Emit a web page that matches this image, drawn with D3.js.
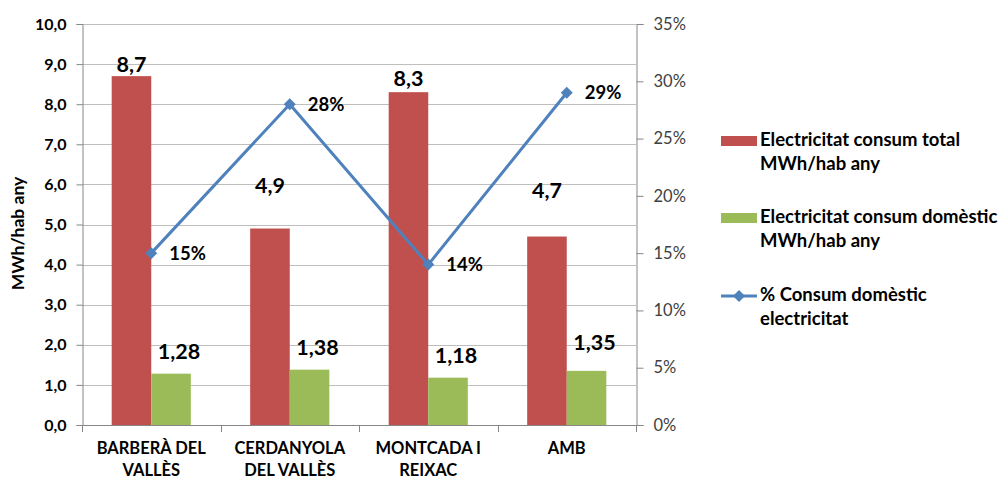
<!DOCTYPE html>
<html>
<head>
<meta charset="utf-8">
<script src="https://cdn.jsdelivr.net/npm/d3@7"></script>
<style>
  html, body { margin: 0; padding: 0; background: #fff; }
  svg { display: block; font-family: Lato, "Open Sans", sans-serif; }
</style>
</head>
<body>
<svg id="chart" width="1004" height="479"></svg>
<script>
// Municipalities and their two-line axis labels
const categories = ["BARBERÀ DEL VALLÈS", "CERDANYOLA DEL VALLÈS", "MONTCADA I REIXAC", "AMB"];
const categoryLines = [["BARBERÀ DEL", "VALLÈS"], ["CERDANYOLA", "DEL VALLÈS"], ["MONTCADA I", "REIXAC"], ["AMB"]];

// Electricity consumption, MWh per inhabitant per year
const totalConsumption = [8.7, 4.9, 8.3, 4.7];
const domesticConsumption = [1.28, 1.38, 1.18, 1.35];
// Domestic share of electricity consumption
const domesticShare = [0.15, 0.28, 0.14, 0.29];

const leftTicks = [0, 1, 2, 3, 4, 5, 6, 7, 8, 9, 10];
const rightTicks = [0, 0.05, 0.10, 0.15, 0.20, 0.25, 0.30, 0.35];

const seriesNames = [
  ["Electricitat consum total", "MWh/hab any"],
  ["Electricitat consum domèstic", "MWh/hab any"],
  ["% Consum domèstic", "electricitat"]
];
const yTitle = "MWh/hab any";

// Colours
const RED = "#C0504D", GREEN = "#9BBB59", BLUE = "#4F81BD";

// Hand-placed label nudges (vertical lift above bar tops)
const totalLabelLift = [4, 36, 6, 39];
const domesticLabelLift = [15, 15, 15, 21];

const svg = d3.select("#chart");
const plot = { left: 82, right: 636, top: 24, bottom: 425 };

const locale = d3.formatLocale({ decimal: ",", thousands: ".", grouping: [3], currency: ["", "€"] });
const f1 = locale.format(".1f");
const f2 = locale.format(".2f");
const fPct = d => Math.round(d * 100) + "%";

const x = d3.scaleBand().domain(categories).range([plot.left, plot.right]).paddingInner(0).paddingOuter(0);
const xSub = d3.scaleBand().domain(["total", "domestic"]).range([0, x.bandwidth()]).paddingInner(0).paddingOuter(0.75);
const yL = d3.scaleLinear().domain([0, 10]).range([plot.bottom, plot.top]);
const yR = d3.scaleLinear().domain([0, 0.35]).range([plot.bottom, plot.top]);

// Horizontal gridlines
svg.append("g").selectAll("line").data(leftTicks.slice(1)).join("line")
  .attr("x1", plot.left).attr("x2", plot.right)
  .attr("y1", d => Math.round(yL(d)) + 0.5).attr("y2", d => Math.round(yL(d)) + 0.5)
  .attr("stroke", "#BEBEBE").attr("stroke-width", 1);

// Left axis
const gL = svg.append("g").attr("transform", `translate(${plot.left + 0.5},0)`)
  .call(d3.axisLeft(yL).tickValues(leftTicks).tickFormat(f1).tickSize(6).tickPadding(10));
gL.select(".domain").attr("stroke", "#868686");
gL.selectAll(".tick line").attr("stroke", "#868686");
gL.selectAll(".tick text").attr("font-size", 16).attr("font-weight", "bold").attr("fill", "#000")
  .attr("font-family", "Lato");

// Right axis
const gR = svg.append("g").attr("transform", `translate(${plot.right + 0.5},0)`)
  .call(d3.axisRight(yR).tickValues(rightTicks).tickFormat(fPct).tickSize(7).tickPadding(10));
gR.select(".domain").attr("stroke", "#868686");
gR.selectAll(".tick line").attr("stroke", "#868686");
gR.selectAll(".tick text").attr("font-size", 16.5).attr("fill", "#404040").attr("font-family", "Lato");

// Y axis title
svg.append("text")
  .attr("transform", `translate(24,${(plot.top + plot.bottom) / 2 + 9}) rotate(-90)`)
  .attr("text-anchor", "middle").attr("font-size", 17.5).attr("font-weight", "bold").attr("fill", "#000")
  .text(yTitle);

// Bars
const groups = svg.append("g").selectAll("g").data(categories).join("g")
  .attr("transform", d => `translate(${x(d)},0)`);

groups.append("rect")
  .attr("x", (d, i) => xSub("total"))
  .attr("width", xSub.bandwidth())
  .attr("y", (d, i) => yL(totalConsumption[i]))
  .attr("height", (d, i) => plot.bottom - yL(totalConsumption[i]))
  .attr("fill", RED);

groups.append("rect")
  .attr("x", (d, i) => xSub("domestic"))
  .attr("width", xSub.bandwidth())
  .attr("y", (d, i) => yL(domesticConsumption[i]))
  .attr("height", (d, i) => plot.bottom - yL(domesticConsumption[i]))
  .attr("fill", GREEN);

// Bottom axis line and category separators
svg.append("line")
  .attr("x1", plot.left).attr("x2", plot.right + 7)
  .attr("y1", plot.bottom + 0.5).attr("y2", plot.bottom + 0.5)
  .attr("stroke", "#868686");
const sepPositions = categories.map(c => x(c)).concat([plot.right]);
svg.append("g").selectAll("line").data(sepPositions).join("line")
  .attr("x1", d => Math.round(d) + 0.5).attr("x2", d => Math.round(d) + 0.5)
  .attr("y1", plot.bottom).attr("y2", plot.bottom + 7)
  .attr("stroke", "#868686");

// Category labels
groups.append("text")
  .attr("x", x.bandwidth() / 2)
  .attr("text-anchor", "middle").attr("font-size", 16.5).attr("font-weight", "bold").attr("fill", "#000")
  .selectAll("tspan").data((d, i) => categoryLines[i]).join("tspan")
  .attr("x", x.bandwidth() / 2)
  .attr("y", (d, j) => 454 + j * 22)
  .text(d => d);

// Value labels on bars
groups.append("text")
  .attr("x", xSub("total") + xSub.bandwidth() / 2)
  .attr("y", (d, i) => yL(totalConsumption[i]) - totalLabelLift[i])
  .attr("text-anchor", "middle").attr("font-size", 21.5).attr("font-weight", "bold").attr("fill", "#000")
  .text((d, i) => f1(totalConsumption[i]));

groups.append("text")
  .attr("x", xSub("domestic") + xSub.bandwidth() / 2 + 8)
  .attr("y", (d, i) => yL(domesticConsumption[i]) - domesticLabelLift[i])
  .attr("text-anchor", "middle").attr("font-size", 21.5).attr("font-weight", "bold").attr("fill", "#000")
  .text((d, i) => f2(domesticConsumption[i]));

// Domestic share line on the right axis
const cx = c => x(c) + x.bandwidth() / 2;
const line = d3.line().x((d, i) => cx(categories[i])).y(d => yR(d));
svg.append("path").datum(domesticShare)
  .attr("d", line).attr("fill", "none").attr("stroke", BLUE).attr("stroke-width", 3)
  .attr("stroke-linejoin", "round");

// Square marker turned 45° to make the diamond
const diamond = d3.symbol().type(d3.symbolSquare).size(72);
svg.append("g").selectAll("path").data(domesticShare).join("path")
  .attr("d", diamond)
  .attr("transform", (d, i) => `translate(${cx(categories[i])},${yR(d)}) rotate(45)`)
  .attr("fill", BLUE);

svg.append("g").selectAll("text").data(domesticShare).join("text")
  .attr("x", (d, i) => cx(categories[i]) + 18)
  .attr("y", d => yR(d) + 2)
  .attr("dominant-baseline", "middle")
  .attr("font-size", 18.5).attr("font-weight", "bold").attr("fill", "#000")
  .text(fPct);

// Legend
const legendY = [141, 218, 296];
const legend = svg.append("g").selectAll("g").data(seriesNames).join("g")
  .attr("transform", (d, i) => `translate(721,${legendY[i]})`);

legend.filter((d, i) => i < 2).append("rect")
  .attr("x", 0).attr("y", -5).attr("width", 36).attr("height", 10)
  .attr("fill", (d, i) => i === 0 ? RED : GREEN);

const lg3 = legend.filter((d, i) => i === 2);
lg3.append("line").attr("x1", 0).attr("x2", 36).attr("y1", 0).attr("y2", 0)
  .attr("stroke", BLUE).attr("stroke-width", 3);
lg3.append("path").attr("d", diamond).attr("transform", "translate(18,0) rotate(45)").attr("fill", BLUE);

legend.append("text")
  .attr("font-size", 18.5).attr("font-weight", "bold").attr("fill", "#000")
  .selectAll("tspan").data(d => d).join("tspan")
  .attr("x", 39).attr("y", (d, j) => j * 24)
  .attr("dominant-baseline", "middle")
  .text(d => d);
</script>
</body>
</html>
